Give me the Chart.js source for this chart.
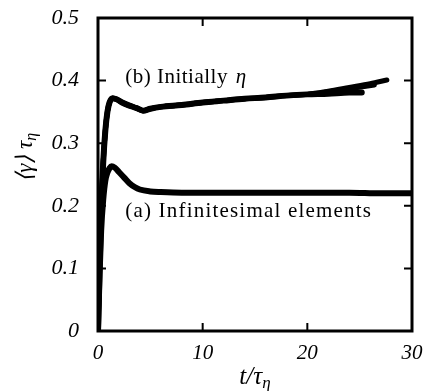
<!DOCTYPE html>
<html>
<head>
<meta charset="utf-8">
<script src="https://cdn.jsdelivr.net/npm/chart.js@4"></script>
<style>
  html, body { margin: 0; padding: 0; background: #fff; }
  canvas { display: block; }
</style>
</head>
<body>
<canvas id="gamma-chart" width="429" height="391"></canvas>
<script>
const SERIF = '"Liberation Serif", "Times New Roman", serif';

// (a) infinitesimal elements
const tA = [0, 0.15, 0.3, 0.5, 0.7, 0.9, 1.1, 1.3, 1.6, 2.0, 2.5, 3.0, 3.5, 4.0, 5.0, 6.0, 8.0, 10, 12, 15, 18, 21, 24, 27, 30];
const gammaA = [0, 0.09, 0.16, 0.21, 0.24, 0.253, 0.26, 0.263, 0.261, 0.254, 0.245, 0.236, 0.23, 0.226, 0.223, 0.222, 0.221, 0.221, 0.221, 0.221, 0.221, 0.221, 0.221, 0.22, 0.22];

// (b) initially eta, three runs of different length
const tB = [0, 0.15, 0.3, 0.5, 0.7, 0.9, 1.1, 1.4, 1.8, 2.3, 3.0, 3.7, 4.3, 5.0, 6.0, 8.0, 10, 12, 14, 16, 18, 20];
const gammaB = [0, 0.1, 0.19, 0.27, 0.32, 0.35, 0.365, 0.372, 0.37, 0.365, 0.36, 0.356, 0.352, 0.355, 0.358, 0.361, 0.365, 0.368, 0.371, 0.373, 0.376, 0.378];
const tB1Tail = [22, 24, 25.2];
const gammaB1Tail = [0.379, 0.381, 0.381];
const tB2Tail = [22, 24, 26.4];
const gammaB2Tail = [0.382, 0.387, 0.393];
const tB3Tail = [22, 24, 26, 27.6];
const gammaB3Tail = [0.383, 0.389, 0.395, 0.401];

const xTicks = [0, 10, 20, 30];
const yTicks = [0, 0.1, 0.2, 0.3, 0.4, 0.5];

const toPoints = (xs, ys) => xs.map((x, i) => ({ x, y: ys[i] }));

const lineSet = (data, width) => ({
  data,
  borderColor: '#000',
  backgroundColor: '#000',
  borderWidth: width,
  pointRadius: 0,
  fill: false,
  cubicInterpolationMode: 'monotone',
  borderCapStyle: 'round',
  borderJoinStyle: 'round',
});

const datasets = [
  lineSet(toPoints(tA, gammaA), 6),
  lineSet(toPoints(tB.concat(tB1Tail), gammaB.concat(gammaB1Tail)), 6),
  lineSet(toPoints(tB.concat(tB2Tail), gammaB.concat(gammaB2Tail)), 5),
  lineSet(toPoints(tB.concat(tB3Tail), gammaB.concat(gammaB3Tail)), 5),
];

// frame with inward ticks, axis titles and the two labels
const decorPlugin = {
  id: 'decor',
  afterDraw(chart) {
    const { ctx, chartArea: area, scales } = chart;
    const xs = scales.x;
    const ys = scales.y;
    ctx.save();
    ctx.strokeStyle = '#000';
    ctx.lineWidth = 2;
    xTicks.slice(1, -1).forEach((v) => {
      const px = xs.getPixelForValue(v);
      ctx.beginPath();
      ctx.moveTo(px, area.bottom);
      ctx.lineTo(px, area.bottom - 8);
      ctx.moveTo(px, area.top);
      ctx.lineTo(px, area.top + 8);
      ctx.stroke();
    });
    yTicks.slice(1, -1).forEach((v) => {
      const py = ys.getPixelForValue(v);
      ctx.beginPath();
      ctx.moveTo(area.left, py);
      ctx.lineTo(area.left + 8, py);
      ctx.moveTo(area.right, py);
      ctx.lineTo(area.right - 8, py);
      ctx.stroke();
    });
    ctx.lineWidth = 3;
    ctx.strokeRect(area.left, area.top, area.right - area.left, area.bottom - area.top);

    ctx.fillStyle = '#000';
    ctx.textBaseline = 'alphabetic';
    ctx.textAlign = 'left';

    // annotations
    const bx = xs.getPixelForValue(2.6);
    const by = ys.getPixelForValue(0.396);
    ctx.letterSpacing = '0.5px';
    ctx.font = `21px ${SERIF}`;
    const bText = '(b) Initially ';
    ctx.fillText(bText, bx, by);
    const bw = ctx.measureText(bText).width;
    ctx.font = `italic 21px ${SERIF}`;
    ctx.fillText('η', bx + bw + 2, by);

    ctx.letterSpacing = '1.2px';
    ctx.font = `21px ${SERIF}`;
    ctx.fillText('(a) Infinitesimal elements', xs.getPixelForValue(2.6), ys.getPixelForValue(0.182));
    ctx.letterSpacing = '0px';

    // x title
    const xMain = 't/τ';
    ctx.font = `italic 25px ${SERIF}`;
    const xw = ctx.measureText(xMain).width;
    ctx.font = `italic 17px ${SERIF}`;
    const sw = ctx.measureText('η').width;
    const xStart = (area.left + area.right) / 2 - (xw + sw) / 2;
    ctx.font = `italic 25px ${SERIF}`;
    ctx.fillText(xMain, xStart, 384);
    ctx.font = `italic 17px ${SERIF}`;
    ctx.fillText('η', xStart + xw, 388);

    // y title
    ctx.translate(32, 157);
    ctx.rotate(-Math.PI / 2);
    ctx.font = `italic 23px ${SERIF}`;
    const yMain = '⟨γ⟩ τ';
    const yw = ctx.measureText(yMain).width;
    const yStart = -(yw + sw) / 2;
    ctx.fillText(yMain, yStart, 0);
    ctx.font = `italic 16px ${SERIF}`;
    ctx.fillText('η', yStart + yw, 4);
    ctx.restore();
  },
};

const chart = new Chart(document.getElementById('gamma-chart'), {
  type: 'line',
  data: { datasets },
  plugins: [decorPlugin],
  options: {
    responsive: false,
    animation: false,
    layout: { padding: { top: 18, right: 17, left: 0, bottom: 0 } },
    plugins: { legend: { display: false }, tooltip: { enabled: false } },
    scales: {
      x: {
        type: 'linear',
        min: 0,
        max: 30,
        afterFit: (scale) => {
          scale.height = 60;
          scale.paddingLeft = 0;
          scale.paddingRight = 0;
        },
        afterBuildTicks: (scale) => { scale.ticks = xTicks.map((value) => ({ value })); },
        grid: { display: false },
        border: { display: false },
        ticks: {
          color: '#000',
          padding: 2,
          maxRotation: 0,
          font: { family: SERIF, size: 21, style: 'italic' },
        },
      },
      y: {
        type: 'linear',
        min: 0,
        max: 0.5,
        afterFit: (scale) => {
          scale.width = 98;
          scale.paddingTop = 0;
          scale.paddingBottom = 0;
        },
        afterBuildTicks: (scale) => { scale.ticks = yTicks.map((value) => ({ value })); },
        grid: { display: false },
        border: { display: false },
        ticks: {
          color: '#000',
          padding: 11,
          font: { family: SERIF, size: 22, style: 'italic' },
          callback: (value) => (value === 0 ? '0' : value.toFixed(1)),
        },
      },
    },
  },
});
</script>
</body>
</html>
